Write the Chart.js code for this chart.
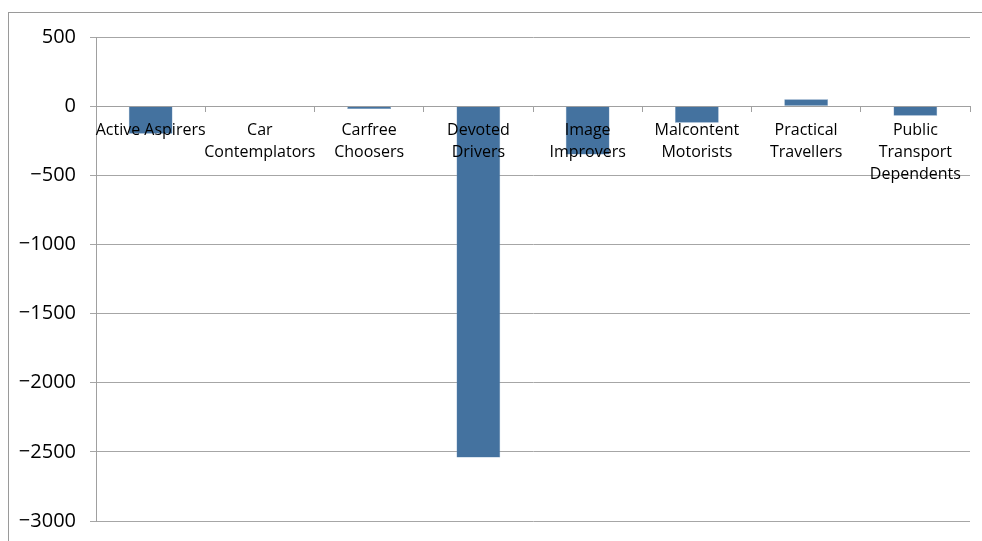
<!DOCTYPE html>
<html>
<head>
<meta charset="utf-8">
<script src="https://cdn.jsdelivr.net/npm/chart.js@4/dist/chart.umd.min.js"></script>
<style>
  html, body { margin: 0; padding: 0; background: #fff; overflow: hidden; }
  #wrap { position: relative; width: 982px; height: 541px; overflow: hidden; }
  #frame { position: absolute; left: 8px; top: 12px; width: 990px; height: 560px;
           border-left: 1px solid #9a9a9a; border-top: 1px solid #9a9a9a; }
  canvas { position: absolute; left: 0; top: 0; }
</style>
</head>
<body>
<div id="wrap">
  <div id="frame"></div>
  <canvas id="chart" width="982" height="547"></canvas>
</div>
<script>
const categories = [
    'Active Aspirers',
    ['Car', 'Contemplators'],
    ['Carfree', 'Choosers'],
    ['Devoted', 'Drivers'],
    ['Image', 'Improvers'],
    ['Malcontent', 'Motorists'],
    ['Practical', 'Travellers'],
    ['Public', 'Transport', 'Dependents']
];
const values = [-200, 0, -20, -2540, -350, -120, 50, -70];
const yMin = -3000;
const yMax = 500;
const yStep = 500;

document.addEventListener("DOMContentLoaded", function() {
    var ctx = document.getElementById('chart').getContext('2d');

    var data = {
        labels: categories,
        datasets: [{
            data: values,
            backgroundColor: '#44729f',
            borderColor: '#6b93bb',
            borderWidth: 0.5,
            categoryPercentage: 1,
            barPercentage: 0.4
        }]
    };

    var options = {
        responsive: false,
        animation: false,
        layout: { padding: { top: 37, right: 12, bottom: 0, left: 0 } },
        plugins: { legend: { display: false }, tooltip: { enabled: false } },
        scales: {
            x: {
                position: { y: 0 },
                offset: true,
                grid: { display: true, drawOnChartArea: false, offset: true, tickLength: 5, color: '#a0a0a0' },
                border: { display: true, color: '#a0a0a0' },
                ticks: {
                    z: 1,
                    color: '#000',
                    font: { family: 'Open Sans', size: 16, lineHeight: 1.38 },
                    maxRotation: 0,
                    autoSkip: false,
                    padding: 8
                }
            },
            y: {
                min: yMin,
                max: yMax,
                afterFit: (scale) => { scale.width = 96; },
                grid: { color: '#a6a6a6', tickLength: 6 },
                border: { display: true, color: '#a0a0a0' },
                ticks: {
                    stepSize: yStep,
                    color: '#000',
                    font: { family: 'Open Sans', size: 20 },
                    padding: 14,
                    callback: (v) => String(v).replace('-', '\u2212')
                }
            }
        }
    };

    new Chart(ctx, { type: 'bar', data: data, options: options });
});
</script>
</body>
</html>
